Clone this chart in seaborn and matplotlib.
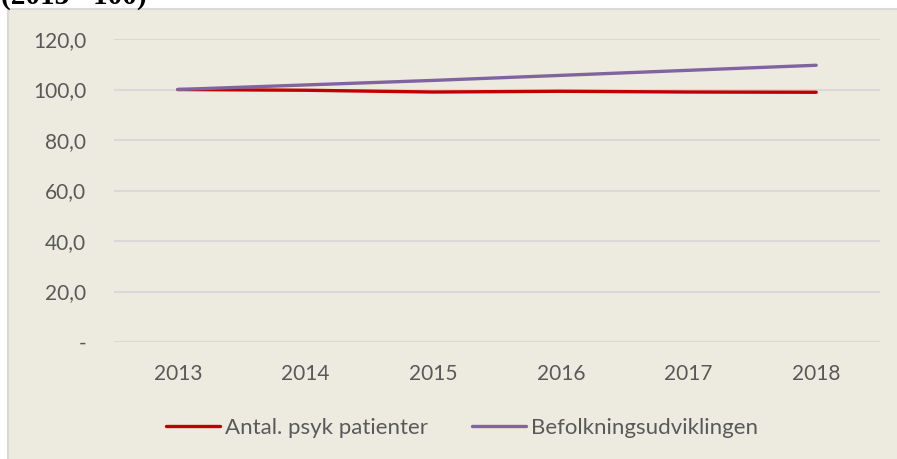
import pandas as pd
import seaborn as sns
import matplotlib.pyplot as plt
from matplotlib.patches import Rectangle

# data (index, 2013 = 100)
years = ['2013', '2014', '2015', '2016', '2017', '2018']
patienter = [100.0, 99.7, 99.0, 99.3, 99.0, 98.9]
befolkning = [100.0, 101.8, 103.6, 105.6, 107.6, 109.6]
series_names = ['Antal. psyk patienter', 'Befolkningsudviklingen']
y_ticks = [0, 20, 40, 60, 80, 100, 120]
y_labels = ['-', '20,0', '40,0', '60,0', '80,0', '100,0', '120,0']

df = pd.DataFrame({
    'År': years * 2,
    'Indeks': patienter + befolkning,
    'Serie': [series_names[0]] * len(years) + [series_names[1]] * len(years),
})

sns.set_theme(style='white')
plt.rcParams['font.family'] = ['Lato', 'DejaVu Sans']

bg = '#EDEBE0'
grid_col = '#D9D9D9'
text_col = '#595959'

W, H = 897, 459
fig = plt.figure(figsize=(W / 100, H / 100), dpi=100)
fig.patch.set_facecolor('white')

# chart area box (Excel style), behind the axes
box = Rectangle((8 / W, -0.01), 1.0, 1 - 9 / H + 0.01,
                transform=fig.transFigure, facecolor=bg,
                edgecolor=grid_col, linewidth=1.5, zorder=-10)
fig.patches.append(box)

# title, cut off at the top edge like in the reference
fig.text(1 / W, 1 - 4 / H, '(2013= 100)', family='Liberation Serif',
         fontweight='bold', fontsize=21, color='black', va='baseline', ha='left')

ax = fig.add_axes([114 / W, 117 / H, (880 - 114) / W, (342 - 39) / H])
ax.set_facecolor('none')

sns.lineplot(data=df, x='År', y='Indeks', hue='Serie', ax=ax,
             palette={series_names[0]: '#C00000', series_names[1]: '#8064A2'},
             linewidth=2.4, sort=False)

ax.set_xlim(-0.5, len(years) - 0.5)
ax.set_ylim(0, 120)
ax.set_yticks(y_ticks)
ax.set_yticklabels(y_labels)
ax.yaxis.grid(True, color=grid_col, linewidth=1.5)
ax.set_axisbelow(True)
for s in ax.spines.values():
    s.set_visible(False)
ax.tick_params(axis='both', length=0, labelsize=15, labelcolor=text_col)
ax.tick_params(axis='y', pad=20)
ax.tick_params(axis='x', pad=16)
ax.set_xlabel('')
ax.set_ylabel('')

ax.legend_.remove()
handles, labels = ax.get_legend_handles_labels()
leg = fig.legend(handles, labels, loc='center', bbox_to_anchor=(462 / W, 1 - 428 / H),
                 ncol=2, frameon=False, fontsize=16, handlelength=2.4,
                 handletextpad=0.23, columnspacing=2.0)
for t in leg.get_texts():
    t.set_color(text_col)

fig.savefig('out.png', dpi=100, facecolor=fig.get_facecolor())
